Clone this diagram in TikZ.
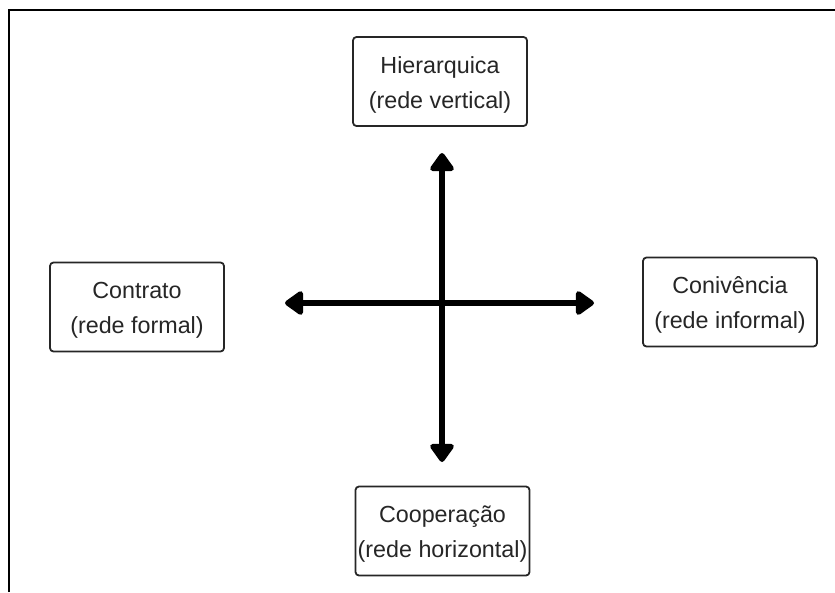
\documentclass[tikz,border=0pt]{standalone}
\usepackage{fontspec}
\setmainfont{Liberation Sans}
\usetikzlibrary{arrows.meta}
\newcommand{\toppad}{\rule{0pt}{23pt}}
\begin{document}
\begin{tikzpicture}[x=1pt,y=-1pt,
  labelbox/.style={draw=black!85, line width=1.8pt, rounded corners=3.5pt, fill=white,
    minimum width=174pt, minimum height=89pt, align=center, inner sep=0pt,
    font=\fontsize{23.3}{35}\selectfont, text=black!85},
  axis/.style={line width=6pt, {Triangle[length=20pt,width=27pt,round]}-{Triangle[length=20pt,width=27pt,round]}}
]
\useasboundingbox (0,0) rectangle (835,592);
\coordinate (fa) at (9,592);
\coordinate (fb) at (9,10);
\coordinate (fc) at (835,10);
\draw[line width=2pt, line join=miter] (fa) -- (fb) -- (fc);
\node[labelbox] (hier) at (440,81.5) {\toppad Hierarquica\\(rede vertical)};
\node[labelbox] (cont) at (137,307) {\toppad Contrato\\(rede formal)};
\node[labelbox] (conv) at (730,302) {\toppad Conivência\\(rede informal)};
\node[labelbox] (coop) at (442.5,531) {\toppad Cooperação\\(rede horizontal)};
\coordinate (top) at (442,153);
\coordinate (bot) at (442,462);
\coordinate (lft) at (285,303);
\coordinate (rgt) at (594,303);
\draw[axis] (top) -- (bot);
\draw[axis] (lft) -- (rgt);
\end{tikzpicture}
\end{document}
